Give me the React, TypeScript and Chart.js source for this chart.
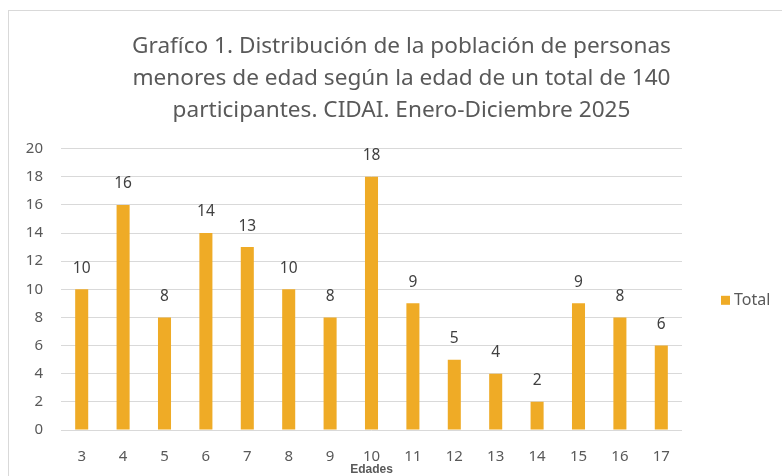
import React, { useEffect, useRef } from "react";
import { Chart, registerables } from "chart.js";

Chart.register(...registerables);

const categories = ["3", "4", "5", "6", "7", "8", "9", "10", "11", "12", "13", "14", "15", "16", "17"];
const totals = [10, 16, 8, 14, 13, 10, 8, 18, 9, 5, 4, 2, 9, 8, 6];
const titleLines = [
  "Grafíco 1. Distribución de la población de personas",
  "menores de edad según la edad de un total de 140",
  "participantes. CIDAI. Enero-Diciembre 2025",
];
const seriesName = "Total";
const xTitle = "Edades";

const FONT = "'Noto Sans', sans-serif";
const BAR_COLOR = "#EFAB26";

const frameLabelsLegend = {
  id: "frameLabelsLegend",
  beforeDraw(chart: any) {
    const ctx = chart.ctx;
    ctx.save();
    ctx.fillStyle = "#ffffff";
    ctx.fillRect(0, 0, chart.width, chart.height);
    ctx.strokeStyle = "#d9d9d9";
    ctx.lineWidth = 1;
    ctx.strokeRect(8.5, 10.5, chart.width + 20, chart.height + 20);
    ctx.restore();
  },
  afterDatasetsDraw(chart: any) {
    const ctx = chart.ctx;
    const meta = chart.getDatasetMeta(0);
    const ds = chart.data.datasets[0];
    ctx.save();
    ctx.font = `15.5px ${FONT}`;
    ctx.fillStyle = "#404040";
    ctx.textAlign = "center";
    ctx.textBaseline = "middle";
    meta.data.forEach((bar: any, i: number) => {
      ctx.fillText(String(ds.data[i]), bar.x, bar.y - 21);
    });
    // legend in the reserved right-hand space
    const area = chart.chartArea;
    const lx = area.right + 39;
    const ly = (area.top + area.bottom) / 2 + 11;
    ctx.fillStyle = ds.backgroundColor;
    ctx.fillRect(lx, ly - 4.5, 9, 9);
    ctx.font = `16px ${FONT}`;
    ctx.fillStyle = "#595959";
    ctx.textAlign = "left";
    ctx.fillText(ds.label, lx + 13, ly);
    ctx.restore();
  },
};

export default function App() {
  const ref = useRef<HTMLCanvasElement>(null);
  useEffect(() => {
    document.body.style.margin = "0";
    const chart = new Chart(ref.current!, {
      type: "bar",
      data: {
        labels: categories,
        datasets: [
          {
            label: seriesName,
            data: totals,
            backgroundColor: BAR_COLOR,
            barPercentage: 0.63,
            categoryPercentage: 0.5,
          },
        ],
      },
      plugins: [frameLabelsLegend],
      options: {
        animation: false,
        responsive: false,
        layout: { padding: { left: 25, right: 4, top: 0, bottom: 0 } },
        plugins: {
          title: {
            display: true,
            text: titleLines,
            color: "#595959",
            font: { family: FONT, size: 22.6, weight: "normal", lineHeight: 1.41 },
            padding: { top: 31, bottom: 22 },
          },
          legend: { display: false },
          tooltip: { enabled: false },
        },
        scales: {
          x: {
            grid: { display: false, drawTicks: false },
            border: { display: false },
            ticks: { color: "#595959", font: { family: FONT, size: 15 }, padding: 18 },
            title: {
              display: true,
              text: xTitle,
              color: "#595959",
              font: { family: "'Liberation Sans', Arial, sans-serif", size: 12, weight: "bold" },
              padding: { top: 0, bottom: -1 },
            },
            afterFit(scale: any) {
              scale.height = 46;
            },
          },
          y: {
            min: 0,
            max: 20,
            ticks: { stepSize: 2, color: "#595959", font: { family: FONT, size: 15 }, padding: 18 },
            grid: { color: "#d9d9d9", lineWidth: 1, drawTicks: false },
            border: { display: false },
            afterFit(scale: any) {
              scale.width = 36;
            },
          },
          legendSpace: {
            type: "linear",
            position: "right",
            display: true,
            grid: { display: false, drawTicks: false },
            border: { display: false },
            ticks: { display: false },
            afterFit(scale: any) {
              scale.width = 96;
            },
          },
        },
      },
    });
    return () => chart.destroy();
  }, []);
  return <canvas ref={ref} width={782} height={476} style={{ display: "block" }} />;
}
